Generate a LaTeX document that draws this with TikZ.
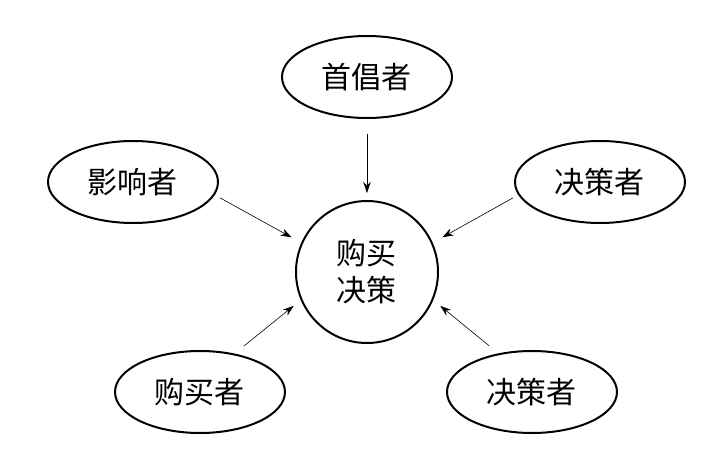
\documentclass[tikz,border=0pt]{standalone}
\usepackage{fontspec}
\newfontfamily\cjk{Noto Sans CJK SC}
\usetikzlibrary{arrows.meta, positioning, shapes.geometric}
\tikzset{role/.style={ellipse,draw,line width=2pt,minimum width=170pt,minimum height=82pt,inner sep=0pt,font=\cjk\fontsize{30}{36}\selectfont},core/.style={circle,draw,line width=2pt,minimum size=142pt,inner sep=0pt,align=center,font=\cjk\fontsize{30}{37}\selectfont},line/.style={-{Stealth[length=11pt,width=7.5pt]},line width=0.6pt}}

\begin{document}
\begin{tikzpicture}[on grid]
\useasboundingbox (-367pt,-184pt) rectangle (349pt,272pt);
\node[core] (decision) {购买\\决策};
\node[role, above=195pt of decision] (initiator) {首倡者};
\node[role, above left=90pt and 234pt of decision] (influencer) {影响者};
\node[role, above right=90pt and 233pt of decision] (decider) {决策者};
\node[role, below left=120pt and 167pt of decision] (buyer) {购买者};
\node[role, below right=120pt and 165pt of decision] (user) {决策者};
\draw[line, shorten <=15pt, shorten >=7pt] (initiator.south) -- (decision.north);
\draw[line, shorten <=6pt, shorten >=11pt] (influencer.-9) -- (decision.156);
\draw[line, shorten <=6pt, shorten >=11pt] (decider.189) -- (decision.24);
\draw[line, shorten <=12pt, shorten >=9pt] (buyer.48) -- (decision.203);
\draw[line, shorten <=12pt, shorten >=9pt] (user.131) -- (decision.337);
\end{tikzpicture}
\end{document}
